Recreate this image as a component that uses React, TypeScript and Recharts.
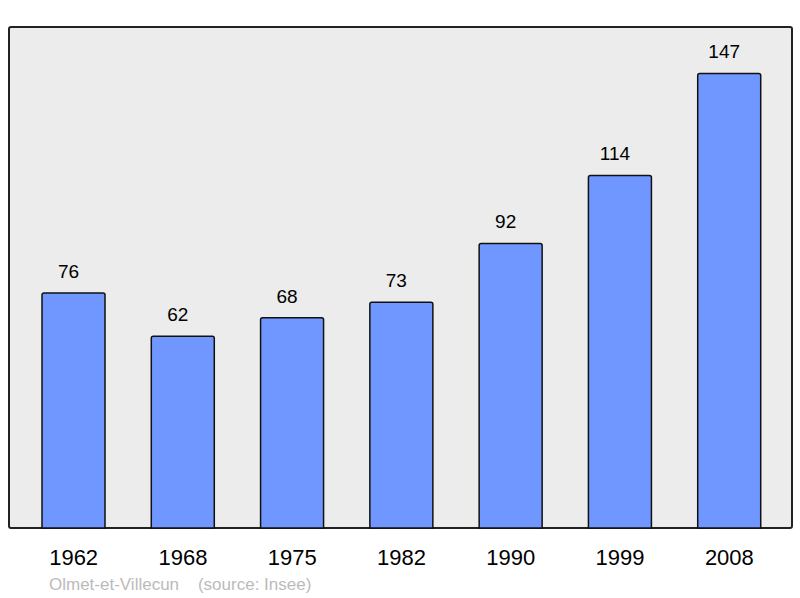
import { BarChart, Bar, XAxis, YAxis, LabelList } from 'recharts';

const years = ['1962', '1968', '1975', '1982', '1990', '1999', '2008'];
const population = [76, 62, 68, 73, 92, 114, 147];

const data = years.map((year, i) => ({ year, population: population[i] }));

const W = 800;
const H = 598;
const margin = { top: 27, right: 8, bottom: 0, left: 9 };
const axisHeight = 70;

export default function App() {
  return (
    <div style={{ position: 'absolute', left: 0, top: 0, width: W, height: H, fontFamily: '"Liberation Sans", Arial, sans-serif' }}>
      {/* grey plot frame behind the svg */}
      <div
        style={{
          position: 'absolute',
          left: margin.left - 1,
          top: margin.top - 1,
          width: W - margin.left - margin.right - 2,
          height: H - margin.top - axisHeight - 2,
          border: '2px solid #222',
          borderRadius: 3,
          background: '#ececec',
        }}
      />
      <div style={{ position: 'absolute', left: 0, top: 0 }}>
        <BarChart width={W} height={H} data={data} margin={margin}>
          <XAxis
            dataKey="year"
            height={axisHeight}
            padding={{ left: 10, right: 8 }}
            axisLine={false}
            tickLine={false}
            tickSize={0}
            tickMargin={21}
            tick={{ fill: '#000', fontSize: 22 }}
            interval={0}
          />
          <YAxis hide domain={[0, 162]} />
          <Bar dataKey="population" fill="#6f97ff" stroke="#111" strokeWidth={1.5} barSize={63} radius={[2, 2, 0, 0]} isAnimationActive={false}>
            <LabelList dataKey="population" position="top" offset={15} dx={-5} fill="#000" fontSize={19} />
          </Bar>
        </BarChart>
      </div>
      <div style={{ position: 'absolute', left: 49, top: 576, fontSize: 17, lineHeight: '17px', color: '#bbb', whiteSpace: 'pre' }}>
        {'Olmet-et-Villecun    (source: Insee)'}
      </div>
    </div>
  );
}
